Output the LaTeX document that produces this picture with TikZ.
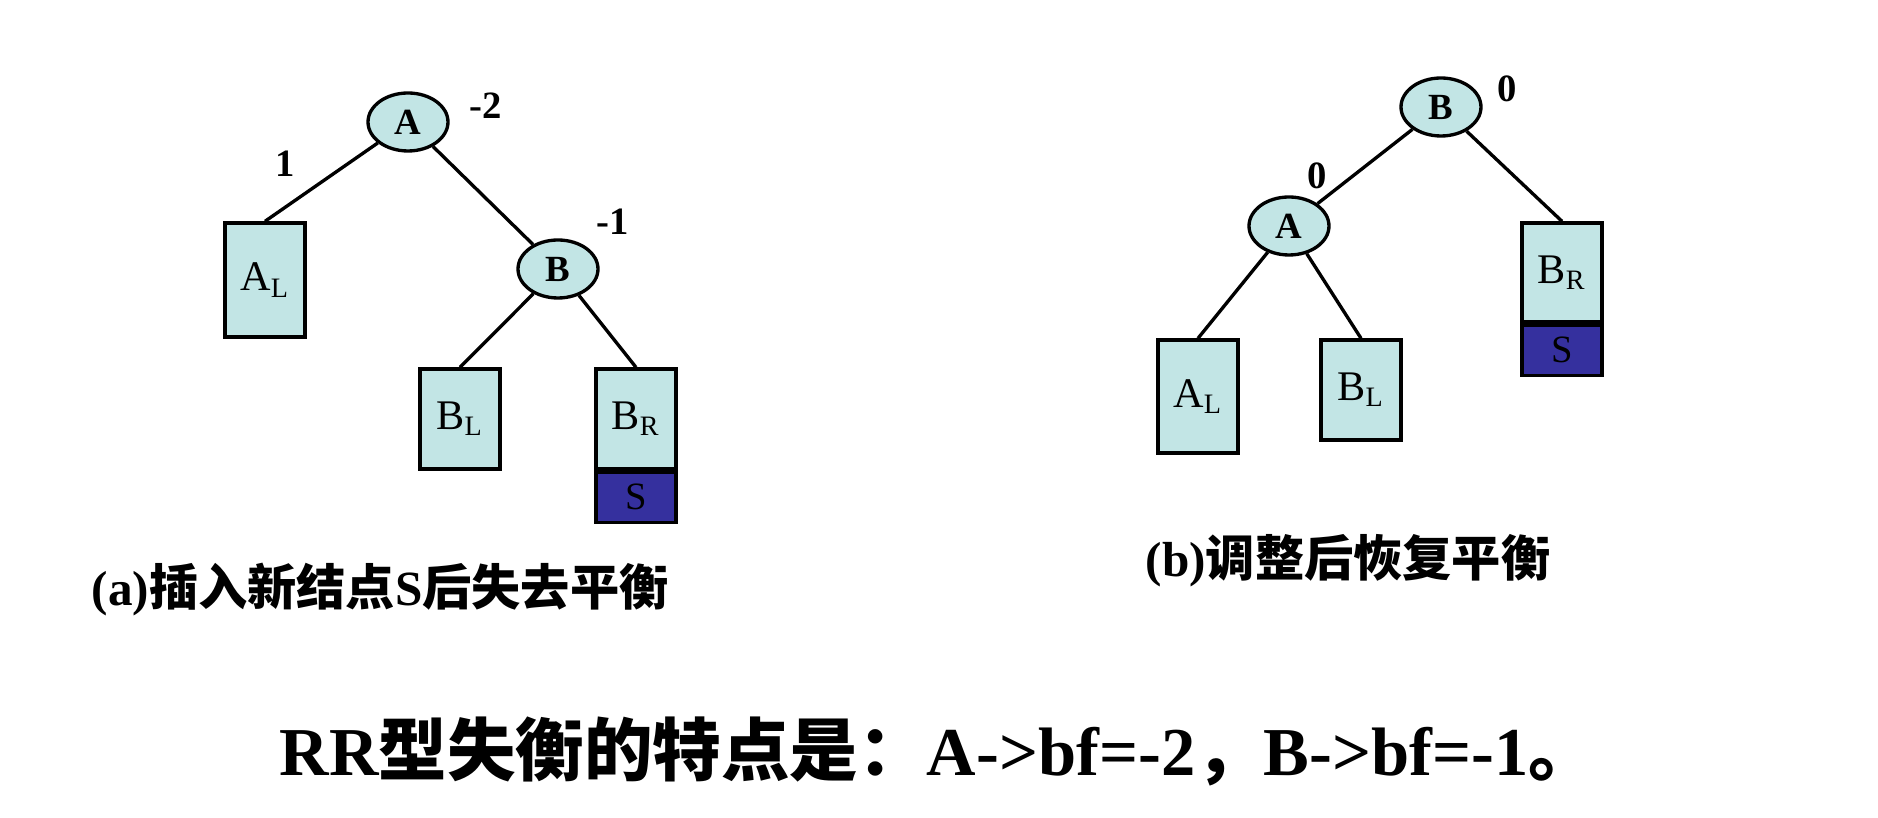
\documentclass[tikz,border=0pt]{standalone}
\usepackage{fontspec}
\setmainfont{Liberation Serif}
\newfontfamily\cjk{Noto Sans CJK SC}
\newcommand\hanzi[1]{{\cjk\bfseries #1}}
\usetikzlibrary{shapes.geometric,positioning}
\definecolor{pale}{HTML}{C2E5E5}
\definecolor{navy}{HTML}{35309E}

\begin{document}
\begin{tikzpicture}[line width=.95pt,
  knot/.style={ellipse,draw,fill=pale,minimum width=.8cm,minimum height=.58cm,
    inner sep=0pt,font=\fontsize{10.5}{12}\selectfont\bfseries},
  tree/.style={draw,fill=pale,minimum width=.8cm,inner sep=0pt,
    font=\fontsize{12}{14}\selectfont},
  ins/.style={draw,fill=navy,minimum width=.8cm,minimum height=.5cm,
    inner sep=0pt,font=\fontsize{11}{13}\selectfont},
  factor/.style={font=\fontsize{11}{13}\selectfont\bfseries},
  caption/.style={anchor=west,inner sep=0pt,
    font=\fontsize{14}{16}\selectfont\bfseries}]
  \useasboundingbox (0,0) rectangle (18.78,-8.18);

  % (a) before rotation
  \node[knot] (A) at (4.08,-1.22) {A};
  \node[knot] (B) at (5.58,-2.69) {B};
  \node[tree,minimum height=1.14cm] (AL) at (2.65,-2.80) {A\textsubscript{L}};
  \node[tree,minimum height=1cm] (BL) at (4.60,-4.19) {B\textsubscript{L}};
  \node[tree,minimum height=1cm] (BR) at (6.36,-4.19) {B\textsubscript{R}};
  \node[ins,below=0pt of BR] (S) {S};
  \draw (A) -- (AL.north);
  \draw (A) -- (B);
  \draw (B) -- (BL.north);
  \draw (B) -- (BR.north);
  \node[factor] (fA) at (4.86,-1.06) {-2};
  \node[factor] (fAL) at (2.85,-1.64) {1};
  \node[factor] (fB) at (6.13,-2.22) {-1};
  \node[caption] (capA) at (0.90,-5.90)
    {(a)\hanzi{插入新结点}S\hanzi{后失去平衡}};

  % (b) after rotation
  \node[knot] (B2) at (14.41,-1.07) {B};
  \node[knot] (A2) at (12.89,-2.26) {A};
  \node[tree,minimum height=1.13cm] (AL2) at (11.98,-3.965) {A\textsubscript{L}};
  \node[tree,minimum height=1cm] (BL2) at (13.61,-3.90) {B\textsubscript{L}};
  \node[tree,minimum height=.99cm] (BR2) at (15.62,-2.725) {B\textsubscript{R}};
  \node[ins,below=0pt of BR2] (S2) {S};
  \draw (B2) -- (A2);
  \draw (B2) -- (BR2.north);
  \draw (A2) -- (AL2.north);
  \draw (A2) -- (BL2.north);
  \node[factor] (fB2) at (15.07,-0.89) {0};
  \node[factor] (fA2) at (13.17,-1.76) {0};
  \node[caption] (capB) at (11.44,-5.61)
    {(b)\hanzi{调整后恢复平衡}};

  \node[anchor=west,inner sep=0pt,font=\fontsize{19.5}{22}\selectfont\bfseries]
    (note) at (2.78,-7.51)
    {RR\hanzi{型失衡的特点是：}A->bf=-2\hanzi{，}B->bf=-1\hanzi{。}};
\end{tikzpicture}
\end{document}
